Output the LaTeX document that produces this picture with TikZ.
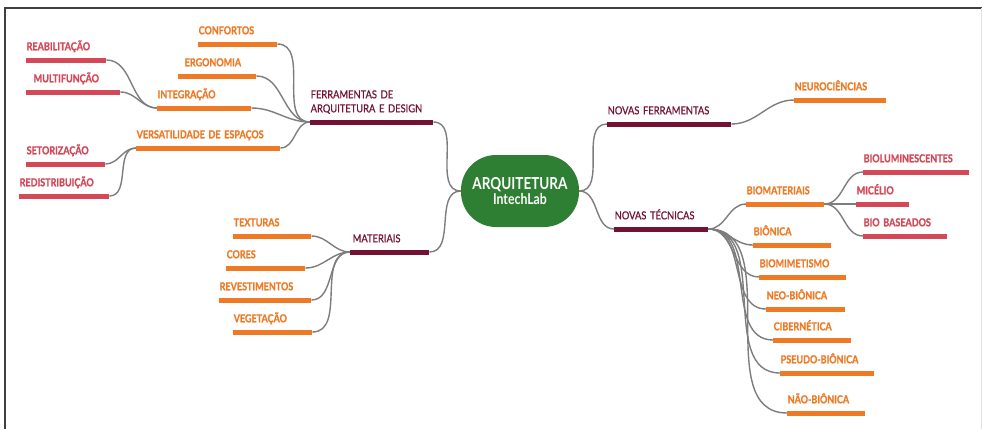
\documentclass[tikz,border=0pt]{standalone}
\usepackage{fontspec}
\setmainfont{Lato}[FakeStretch=0.85, BoldFont={Lato Bold}, BoldFeatures={FakeStretch=0.82}]
\usetikzlibrary{positioning}

\definecolor{vinho}{RGB}{115,18,50}
\definecolor{laranja}{RGB}{238,122,38}
\definecolor{rosa}{RGB}{212,72,88}
\definecolor{verde}{RGB}{46,126,52}
\definecolor{fio}{RGB}{125,125,125}

\tikzset{
    lbl/.style  = {anchor=south west, inner xsep=0.5pt, inner ysep=0pt, text depth=9.5pt,
                   align=left, font=\fontsize{11}{14}\selectfont\bfseries\addfontfeature{FakeBold=1.2}},
    vlbl/.style = {lbl, text=vinho, font=\fontsize{11}{14}\selectfont\addfontfeature{FakeBold=0.6}},
    olbl/.style = {lbl, text=laranja},
    rlbl/.style = {lbl, text=rosa},
    bar/.style  = {line width=5pt},
    link/.style = {draw=fio, line width=1.4pt, out=0, in=180},
}

\begin{document}
\begin{tikzpicture}[x=1pt, y=-1pt]
    \useasboundingbox (0,0) rectangle (982,429);
    % moldura
    \draw[line width=2pt, black!75] (5,429) -- (5,8) -- (982,8);
    \draw[line width=1pt, black!12] (981,8) -- (981,429);

    % centro
    \node[fill=verde, rounded corners=35pt, minimum width=118pt, minimum height=72pt,
          text=white, align=center, inner sep=0pt, font=\bfseries] (arq) at (520,191)
          {{\fontsize{16.5}{20}\selectfont ARQUITETURA}\\[1pt]{\fontsize{15}{18}\selectfont IntechLab}};

    % ramo esquerdo superior
    \node[vlbl, text width=122pt, text depth=23.5pt] (ferr) at (310,122) {FERRAMENTAS DE\\ARQUITETURA E DESIGN};
    \node[olbl, text width=78pt]  (conf) at (198,44)  {CONFORTOS};
    \node[olbl, text width=77pt]  (ergo) at (178,76)  {\hspace{6pt}ERGONOMIA};
    \node[olbl, text width=93pt]  (integ) at (157,108) {INTEGRAÇÃO};
    \node[olbl, text width=143pt] (vers) at (136,148) {VERSATILIDADE DE ESPAÇOS};
    \node[rlbl, text width=79pt]  (reab) at (26,60)   {REABILITAÇÃO};
    \node[rlbl, text width=93pt]  (mult) at (26,92)   {\hspace{7pt}MULTIFUNÇÃO};
    \node[rlbl, text width=78pt]  (setor) at (26,164) {SETORIZAÇÃO};
    \node[rlbl, text width=89pt]  (redis) at (19,196) {REDISTRIBUIÇÃO};

    % ramo esquerdo inferior
    \node[vlbl, text width=78pt]  (mat) at (350,252)  {\hspace{2pt}MATERIAIS};
    \node[olbl, text width=77pt]  (text) at (233,236) {TEXTURAS};
    \node[olbl, text width=78pt]  (cores) at (226,268) {CORES};
    \node[olbl, text width=91pt]  (rev) at (219,300)  {REVESTIMENTOS};
    \node[olbl, text width=78pt]  (veg) at (233,332)  {VEGETAÇÃO};

    % ramo direito
    \node[vlbl, text width=123pt] (novf) at (607,124) {NOVAS FERRAMENTAS};
    \node[olbl, text width=91pt]  (neuro) at (794,100) {NEUROCIÊNCIAS};
    \node[vlbl, text width=93pt]  (novt) at (614,229) {NOVAS TÉCNICAS};
    \node[olbl, text width=77pt]  (biomat) at (746,204) {BIOMATERIAIS};
    \node[rlbl, text width=105pt] (biolum) at (863,172) {BIOLUMINESCENTES};
    \node[rlbl, text width=52pt]  (mic) at (856,204)  {MICÉLIO};
    \node[rlbl, text width=83pt]  (biobase) at (863,236) {BIO BASEADOS};
    \node[olbl, text width=77pt]  (bion) at (753,245) {BIÔNICA};
    \node[olbl, text width=86pt]  (biomim) at (759,277) {BIOMIMETISMO};
    \node[olbl, text width=78pt]  (neob) at (766,309) {NEO-BIÔNICA};
    \node[olbl, text width=77pt]  (ciber) at (773,340) {CIBERNÉTICA};
    \node[olbl, text width=93pt]  (pseudo) at (780,373) {PSEUDO-BIÔNICA};
    \node[olbl, text width=77pt]  (naob) at (787,413) {NÃO-BIÔNICA};

    % ligacoes
    \draw[link] (ferr.south east) to (arq.west);
    \draw[link] (mat.south east) to (arq.west);
    \draw[link] (arq.east) to (novf.south west);
    \draw[link] (arq.east) to (novt.south west);
    \foreach \n in {conf,ergo,integ,vers}
        \draw[link] (\n.south east) to (ferr.south west);
    \foreach \n in {reab,mult}
        \draw[link] (\n.south east) to (integ.south west);
    \foreach \n in {setor,redis}
        \draw[link] (\n.south east) to (vers.south west);
    \foreach \n in {text,cores,rev,veg}
        \draw[link] (\n.south east) to (mat.south west);
    \draw[link] (novf.south east) to (neuro.south west);
    \foreach \n in {biomat,bion,biomim,neob,ciber,pseudo,naob}
        \draw[link] (novt.south east) to (\n.south west);
    \foreach \n in {biolum,mic,biobase}
        \draw[link] (biomat.south east) to (\n.south west);

    % barras
    \foreach \n in {ferr,mat,novf,novt}
        \draw[bar, vinho] (\n.south west) -- (\n.south east);
    \foreach \n in {conf,ergo,integ,vers,text,cores,rev,veg,neuro,biomat,bion,biomim,neob,ciber,pseudo,naob}
        \draw[bar, laranja] (\n.south west) -- (\n.south east);
    \foreach \n in {reab,mult,setor,redis,biolum,mic,biobase}
        \draw[bar, rosa] (\n.south west) -- (\n.south east);
\end{tikzpicture}
\end{document}
